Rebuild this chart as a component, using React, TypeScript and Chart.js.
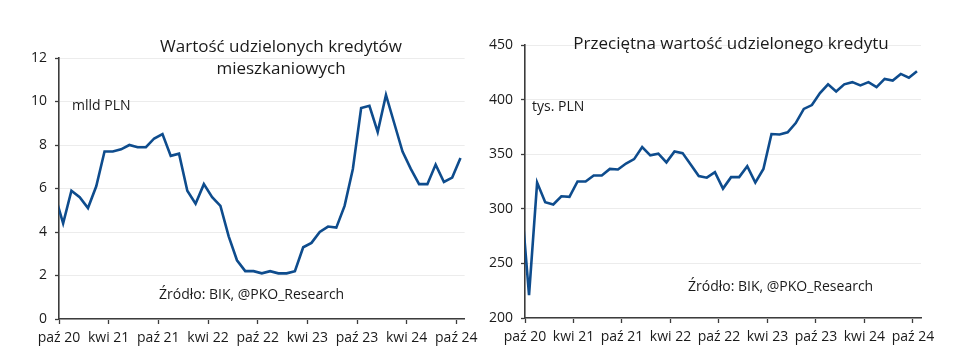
import React, { useEffect, useRef } from "react";
import { Chart, registerables } from "chart.js";

Chart.register(...registerables);

// Monthly observations: wrz 20 (Sep 2020) ... paź 24 (Oct 2024)
const monthNames = ["sty", "lut", "mar", "kwi", "maj", "cze", "lip", "sie", "wrz", "paź", "lis", "gru"];
const firstYear = 2020;
const firstMonth = 8; // wrz
const monthCount = 50;
const months: string[] = [];
for (let i = 0; i < monthCount; i++) {
  const m = (firstMonth + i) % 12;
  const y = firstYear + Math.floor((firstMonth + i) / 12);
  months.push(`${monthNames[m]} ${String(y).slice(2)}`);
}

const tickLabels = ["paź 20", "kwi 21", "paź 21", "kwi 22", "paź 22", "kwi 23", "paź 23", "kwi 24", "paź 24"];

// Wartość udzielonych kredytów mieszkaniowych (mld PLN)
const loanValue = [
  5.7, 4.4, 5.9, 5.6,
  5.1, 6.1, 7.7, 7.7, 7.8, 8.0, 7.9, 7.9, 8.3, 8.5, 7.5, 7.6,
  5.9, 5.3, 6.2, 5.6, 5.2, 3.8, 2.7, 2.2, 2.2, 2.1, 2.2, 2.1,
  2.1, 2.2, 3.3, 3.5, 4.0, 4.25, 4.2, 5.2, 6.9, 9.7, 9.8, 8.6,
  10.3, 9.0, 7.7, 6.9, 6.2, 6.2, 7.1, 6.3, 6.5, 7.4,
];

// Przeciętna wartość udzielonego kredytu (tys. PLN)
const avgLoan = [
  311, 221, 324, 306,
  304, 311.5, 311, 325, 325, 330.5, 330.5, 336.5, 336, 341.5, 345.5, 356.5,
  349, 350.5, 342.5, 352.5, 351, 340.5, 330, 328.5, 333.5, 318.5, 329, 329,
  339, 324, 336.5, 368.5, 368, 370, 378.5, 391.5, 395, 406, 414, 407.5,
  414, 416, 413, 416, 411.5, 419, 417.5, 423.5, 420, 426,
];

const FONT = "'Open Sans', 'Noto Sans', sans-serif";
const TEXT = "#1a1a1a";
const AXIS = "#3c3c3c";
const GRID = "#ececec";
const LINE = "#0e4c8d";

const tickPositions = tickLabels.map((l) => months.indexOf(l) - 0.5);
const xMin = tickPositions[0];
const xMax = months.length - 0.5;

const textPlugin = {
  id: "overlayTexts",
  afterDraw(chart: any, _args: any, opts: any) {
    const ctx = chart.ctx;
    for (const t of opts.items || []) {
      ctx.save();
      ctx.font = t.font;
      ctx.fillStyle = TEXT;
      ctx.textAlign = t.align;
      ctx.textBaseline = "middle";
      ctx.fillText(t.text, t.x, t.y);
      ctx.restore();
    }
  },
};

type PanelProps = {
  values: number[];
  yMin: number;
  yMax: number;
  yStep: number;
  yWidth: number;
  xHeight: number;
  padding: { left: number; top: number; right: number; bottom: number };
  texts: { text: string; x: number; y: number; align: string; font: string }[];
};

function Panel(p: PanelProps) {
  const ref = useRef<HTMLCanvasElement | null>(null);
  useEffect(() => {
    if (!ref.current) return;
    const chart = new Chart(ref.current, {
      type: "line",
      data: {
        datasets: [
          {
            data: p.values.map((v, i) => ({ x: i, y: v })),
            borderColor: LINE,
            borderWidth: 2.6,
            pointRadius: 0,
            tension: 0,
            fill: false,
            clip: { left: 0, right: 5, top: 5, bottom: 5 } as any,
          },
        ],
      },
      options: {
        responsive: false,
        animation: false,
        devicePixelRatio: 1,
        layout: { padding: p.padding },
        plugins: {
          legend: { display: false },
          tooltip: { enabled: false },
          title: { display: false },
          overlayTexts: { items: p.texts },
        } as any,
        scales: {
          x: {
            type: "linear",
            min: xMin,
            max: xMax,
            afterBuildTicks: (scale: any) => {
              scale.ticks = tickPositions.map((v) => ({ value: v }));
            },
            afterFit: (scale: any) => {
              scale.height = p.xHeight;
            },
            ticks: {
              autoSkip: false,
              maxRotation: 0,
              minRotation: 0,
              padding: 6,
              color: TEXT,
              font: { family: FONT, size: 14 },
              callback: (_v: any, i: number) => tickLabels[i],
            },
            grid: {
              drawOnChartArea: false,
              drawTicks: true,
              tickLength: 5,
              tickColor: AXIS,
              tickWidth: 1.3,
            },
            border: { display: true, color: AXIS, width: 1.6 },
          },
          y: {
            min: p.yMin,
            max: p.yMax,
            afterFit: (scale: any) => {
              scale.width = p.yWidth;
            },
            ticks: {
              stepSize: p.yStep,
              padding: 8,
              color: TEXT,
              font: { family: FONT, size: 14 },
            },
            grid: {
              color: GRID,
              lineWidth: 1,
              drawTicks: true,
              tickLength: 4,
              tickColor: AXIS,
              tickWidth: 1.3,
            },
            border: { display: true, color: AXIS, width: 1.6 },
          },
        },
      } as any,
      plugins: [textPlugin],
    });
    return () => chart.destroy();
  }, []);
  return <canvas ref={ref} width={484} height={360} style={{ display: "block", width: 484, height: 360 }} />;
}

export default function App() {
  const titleFont = `17px ${FONT}`;
  const noteFont = `14px ${FONT}`;
  return (
    <div style={{ position: "fixed", left: 0, top: 0, width: 968, height: 360, background: "#ffffff", display: "flex" }}>
      <Panel
        values={loanValue}
        yMin={0}
        yMax={12}
        yStep={2}
        yWidth={59}
        xHeight={41}
        padding={{ left: 0, top: 58, right: 19, bottom: 0 }}
        texts={[
          { text: "Wartość udzielonych kredytów", x: 281, y: 47, align: "center", font: titleFont },
          { text: "mieszkaniowych", x: 281, y: 69, align: "center", font: titleFont },
          { text: "mlld PLN", x: 72, y: 106, align: "left", font: noteFont },
          { text: "Źródło: BIK, @PKO_Research", x: 159, y: 295, align: "left", font: noteFont },
        ]}
      />
      <Panel
        values={avgLoan}
        yMin={200}
        yMax={450}
        yStep={50}
        yWidth={41}
        xHeight={42}
        padding={{ left: 0, top: 45, right: 47, bottom: 0 }}
        texts={[
          { text: "Przeciętna wartość udzielonego kredytu", x: 247, y: 44, align: "center", font: titleFont },
          { text: "tys. PLN", x: 48, y: 107, align: "left", font: noteFont },
          { text: "Źródło: BIK, @PKO_Research", x: 204, y: 287, align: "left", font: noteFont },
        ]}
      />
    </div>
  );
}
